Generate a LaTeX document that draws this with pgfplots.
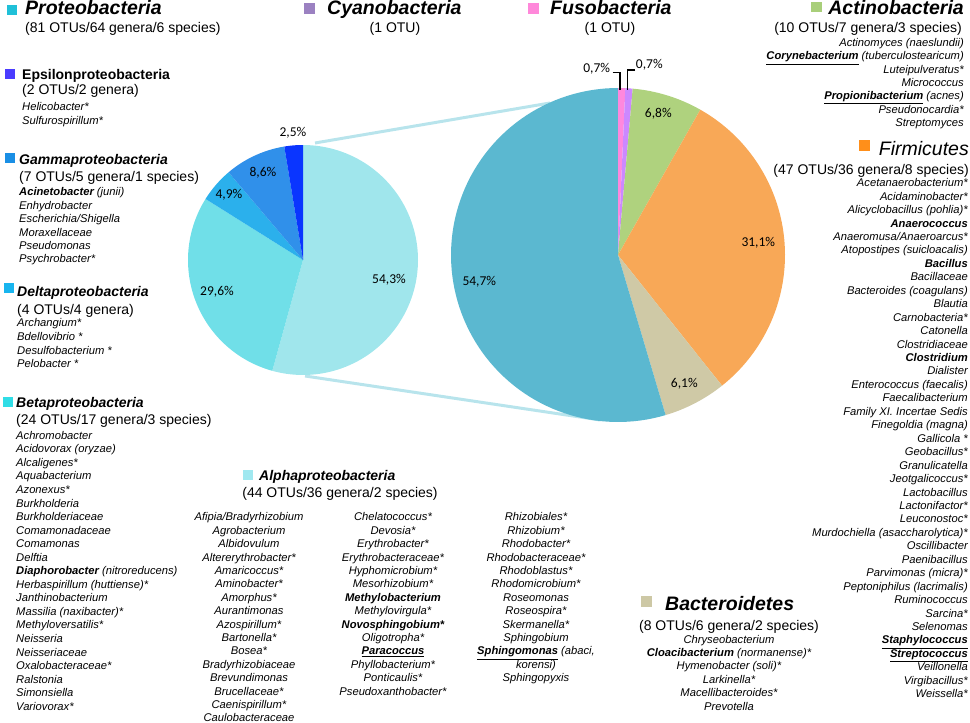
\documentclass[border=0pt]{standalone}
\usepackage{pgfplots}
\pgfplotsset{compat=1.18}
\usepackage{fontspec}
\setmainfont{Liberation Sans}
\newfontfamily\pctfont{Carlito}
\definecolor{cPink}{HTML}{FF88DD}
\definecolor{cPurple}{HTML}{CC88FF}
\definecolor{cGreen}{HTML}{AFD27E}
\definecolor{cOrange}{HTML}{F8A857}
\definecolor{cTan}{HTML}{CFC9A6}
\definecolor{cBlue}{HTML}{5BB8D0}
\definecolor{sAlpha}{HTML}{A0E6EC}
\definecolor{sBeta}{HTML}{70DFE8}
\definecolor{sDelta}{HTML}{2BB0EC}
\definecolor{sGamma}{HTML}{3090EA}
\definecolor{sEps}{HTML}{0A35FF}
\definecolor{conn}{HTML}{B8E4EC}
\definecolor{qProt}{HTML}{20C0D8}
\definecolor{qEps}{HTML}{4A3CFF}
\definecolor{qGamma}{HTML}{1A8FE5}
\definecolor{qDelta}{HTML}{18B5EF}
\definecolor{qBeta}{HTML}{30DDE6}
\definecolor{qAlpha}{HTML}{A0E8F0}
\definecolor{qCyano}{HTML}{9B81C1}
\definecolor{qFuso}{HTML}{FF88DA}
\definecolor{qActino}{HTML}{A9CF7A}
\definecolor{qFirm}{HTML}{FF8F1A}
\definecolor{qBact}{HTML}{CDC8A5}
\newcommand\Head{\fontsize{19.5}{22}\selectfont\bfseries\itshape}
\newcommand\HeadR{\fontsize{19.5}{22}\selectfont\itshape}
\newcommand\Sub{\fontsize{14}{16}\selectfont}
\newcommand\SubB{\fontsize{14}{16}\selectfont\bfseries}
\newcommand\SubBI{\fontsize{14}{16}\selectfont\bfseries\itshape}
\newcommand\Li{\fontsize{11.2}{13}\selectfont\itshape}
\newcommand\Pc{\fontsize{13.5}{15}\selectfont\pctfont}
\newcommand\B[1]{\textbf{#1}}
\newcommand\U[1]{\underline{\textbf{#1}}}
% slice: cx, cy, r, start (percent), size (percent), colour
\newcommand\slice[6]{%
\addplot[fill=#6, draw=none, domain=0:1, samples=90, variable=\t]
 ({#1+#3*sin(3.6*(#4+\t*#5))}, {#2-#3*cos(3.6*(#4+\t*#5))}) -- (axis cs:#1,#2) -- cycle;}
\begin{document}
\begin{tikzpicture}
\useasboundingbox (0,0) rectangle (970pt,723pt);
\begin{scope}[yshift=723pt, x=1pt, y=-1pt]
\draw[conn, line width=3pt] (315,143) -- (550,103);
\draw[conn, line width=3pt] (305,376) -- (600,420);
\end{scope}
\begin{axis}[x=1pt, y=1pt, xmin=0, xmax=970, ymin=0, ymax=723, y dir=reverse,
  hide axis, clip=false, scale only axis]
% Proteobacteria classes (small pie)
\slice{303}{260}{115}{0}{54.3}{sAlpha}
\slice{303}{260}{115}{54.3}{29.6}{sBeta}
\slice{303}{260}{115}{83.9}{4.9}{sDelta}
\slice{303}{260}{115}{88.8}{8.6}{sGamma}
\slice{303}{260}{115}{97.4}{2.6}{sEps}
% phyla (big pie)
\slice{618}{255}{167}{0}{0.7}{cPink}
\slice{618}{255}{167}{0.7}{0.7}{cPurple}
\slice{618}{255}{167}{1.4}{6.8}{cGreen}
\slice{618}{255}{167}{8.2}{31.1}{cOrange}
\slice{618}{255}{167}{39.3}{6.1}{cTan}
\slice{618}{255}{167}{45.4}{54.6}{cBlue}
\end{axis}
\begin{scope}[yshift=723pt, x=1pt, y=-1pt]
% percentage labels
\node[font=\Pc] at (293,133) {2,5\%};
\node[font=\Pc] at (263,173) {8,6\%};
\node[font=\Pc] at (229,195) {4,9\%};
\node[font=\Pc] at (217,292) {29,6\%};
\node[font=\Pc] at (389,280) {54,3\%};
\node[font=\Pc] at (596.7,68.3) {0,7\%};
\node[font=\Pc] at (649.3,65) {0,7\%};
\node[font=\Pc] at (658.3,113.3) {6,8\%};
\node[font=\Pc] at (758.3,242.7) {31,1\%};
\node[font=\Pc] at (684.3,383.3) {6,1\%};
\node[font=\Pc] at (479.3,281.7) {54,7\%};
\draw[line width=1.2pt] (612.7,72.3) -- (620,72.3) -- (620,90);
\draw[line width=1.2pt] (635,70) -- (627.7,70) -- (627.7,90);
% Proteobacteria header
\fill[qProt] (7,5) rectangle (17,15);
\node[anchor=base west, inner sep=0, font=\Head] at (25,15) {Proteobacteria};
\node[anchor=base west, inner sep=0, font=\Sub] at (25,32.5) {(81 OTUs/64 genera/6 species)};
% Cyanobacteria
\fill[qCyano] (304,3) rectangle (315,14);
\node[anchor=base west, inner sep=0, font=\Head] at (327,15) {Cyanobacteria};
\node[anchor=base, inner sep=0, font=\Sub] at (395,33) {(1 OTU)};
% Fusobacteria
\fill[qFuso] (528,3) rectangle (539,14);
\node[anchor=base west, inner sep=0, font=\Head] at (550,15) {Fusobacteria};
\node[anchor=base, inner sep=0, font=\Sub] at (610,33) {(1 OTU)};
% Epsilon
\fill[qEps] (5,69) rectangle (15,79);
\node[anchor=base west, inner sep=0, font=\SubB] at (22,80) {Epsilonproteobacteria};
\node[anchor=base west, inner sep=0, font=\Sub] at (22,95) {(2 OTUs/2 genera)};
\foreach \s [count=\i from 0] in {Helicobacter*, Sulfurospirillum*}
  \node[anchor=base west, inner sep=0, font=\Li] at (22,{111+13.7*\i}) {\s};
% Gamma
\fill[qGamma] (5,153) rectangle (15,163);
\node[anchor=base west, inner sep=0, font=\SubBI] at (19,165) {Gammaproteobacteria};
\node[anchor=base west, inner sep=0, font=\Sub] at (19,182) {(7 OTUs/5 genera/1 species)};
\foreach \s [count=\i from 0] in {{\B{Acinetobacter} (junii)}, Enhydrobacter, Escherichia/Shigella, Moraxellaceae, Pseudomonas, Psychrobacter*}
  \node[anchor=base west, inner sep=0, font=\Li] at (19,{196+13.35*\i}) {\s};
% Delta
\fill[qDelta] (4,283) rectangle (14,293);
\node[anchor=base west, inner sep=0, font=\SubBI] at (17,297) {Deltaproteobacteria};
\node[anchor=base west, inner sep=0, font=\Sub] at (17,315) {(4 OTUs/4 genera)};
\foreach \s [count=\i from 0] in {Archangium*, Bdellovibrio *, Desulfobacterium *, Pelobacter *}
  \node[anchor=base west, inner sep=0, font=\Li] at (17,{327+13.6*\i}) {\s};
% Beta
\fill[qBeta] (3,397) rectangle (13,407);
\node[anchor=base west, inner sep=0, font=\SubBI] at (16,408) {Betaproteobacteria};
\node[anchor=base west, inner sep=0, font=\Sub] at (16,425) {(24 OTUs/17 genera/3 species)};
\foreach \s [count=\i from 0] in {Achromobacter, Acidovorax (oryzae), Alcaligenes*, Aquabacterium, Azonexus*, Burkholderia, Burkholderiaceae, Comamonadaceae, Comamonas, Delftia, {\B{Diaphorobacter} (nitroreducens)}, Herbaspirillum (huttiense)*, Janthinobacterium, Massilia (naxibacter)*, Methyloversatilis*, Neisseria, Neisseriaceae, Oxalobacteraceae*, Ralstonia, Simonsiella, Variovorax*}
  \node[anchor=base west, inner sep=0, font=\Li] at (16,{439.3+13.55*\i}) {\s};
% Alpha
\fill[qAlpha] (243,470) rectangle (253,480);
\node[anchor=base west, inner sep=0, font=\SubBI] at (259,481) {Alphaproteobacteria};
\node[anchor=base, inner sep=0, font=\Sub] at (340,498) {(44 OTUs/36 genera/2 species)};
\foreach \s [count=\i from 0] in {Afipia/Bradyrhizobium, Agrobacterium, Albidovulum, Altererythrobacter*, Amaricoccus*, Aminobacter*, Amorphus*, Aurantimonas, Azospirillum*, Bartonella*, Bosea*, Bradyrhizobiaceae, Brevundimonas, Brucellaceae*, Caenispirillum*, Caulobacteraceae}
  \node[anchor=base, inner sep=0, font=\Li] at (249,{521+13.4*\i}) {\s};
\foreach \s [count=\i from 0] in {Chelatococcus*, Devosia*, Erythrobacter*, Erythrobacteraceae*, Hyphomicrobium*, Mesorhizobium*, \B{Methylobacterium}, Methylovirgula*, \B{Novosphingobium*}, Oligotropha*, \U{Paracoccus}, Phyllobacterium*, Ponticaulis*, Pseudoxanthobacter*}
  \node[anchor=base, inner sep=0, font=\Li] at (393,{521+13.4*\i}) {\s};
\foreach \s [count=\i from 0] in {Rhizobiales*, Rhizobium*, Rhodobacter*, Rhodobacteraceae*, Rhodoblastus*, Rhodomicrobium*, Roseomonas, Roseospira*, Skermanella*, Sphingobium, {\U{Sphingomonas} (abaci,}, korensi), Sphingopyxis}
  \node[anchor=base, inner sep=0, font=\Li] at (536,{521+13.4*\i}) {\s};
% Actinobacteria
\fill[qActino] (811,2) rectangle (822,12);
\node[anchor=base east, inner sep=0, font=\Head] at (964,15) {Actinobacteria};
\node[anchor=base east, inner sep=0, font=\Sub] at (962,32.7) {(10 OTUs/7 genera/3 species)};
\foreach \s [count=\i from 0] in {Actinomyces (naeslundii), {\U{Corynebacterium} (tuberculostearicum)}, Luteipulveratus*, Micrococcus, {\U{Propionibacterium} (acnes)}, Pseudonocardia*, Streptomyces}
  \node[anchor=base east, inner sep=0, font=\Li] at (964,{46.7+13.3*\i}) {\s};
% Firmicutes
\fill[qFirm] (859,140) rectangle (870,151);
\node[anchor=base east, inner sep=0, font=\HeadR] at (969,156) {Firmicutes};
\node[anchor=base east, inner sep=0, font=\Sub] at (969,174.3) {(47 OTUs/36 genera/8 species)};
\foreach \s [count=\i from 0] in {Acetanaerobacterium*, Acidaminobacter*, Alicyclobacillus (pohlia)*, \B{Anaerococcus}, Anaeromusa/Anaeroarcus*, Atopostipes (suicloacalis), \B{Bacillus}, Bacillaceae, Bacteroides (coagulans), Blautia, Carnobacteria*, Catonella, Clostridiaceae, \B{Clostridium}, Dialister, Enterococcus (faecalis), Faecalibacterium, Family XI. Incertae Sedis, Finegoldia (magna), Gallicola *, Geobacillus*, Granulicatella, Jeotgalicoccus*, Lactobacillus, Lactonifactor*, Leuconostoc*, Murdochiella (asaccharolytica)*, Oscillibacter, Paenibacillus, Parvimonas (micra)*, Peptoniphilus (lacrimalis), Ruminococcus, Sarcina*, Selenomas, \U{Staphylococcus}, \U{Streptococcus}, Veillonella, Virgibacillus*, Weissella*}
  \node[anchor=base east, inner sep=0, font=\Li] at (968,{186.7+13.45*\i}) {\s};
% Bacteroidetes
\fill[qBact] (641,596) rectangle (652,607);
\node[anchor=base west, inner sep=0, font=\Head] at (665,610.7) {Bacteroidetes};
\node[anchor=base, inner sep=0, font=\Sub] at (729,631) {(8 OTUs/6 genera/2 species)};
\foreach \s [count=\i from 0] in {Chryseobacterium, {\B{Cloacibacterium} (normanense)*}, Hymenobacter (soli)*, Larkinella*, Macellibacteroides*, Prevotella}
  \node[anchor=base, inner sep=0, font=\Li] at (729,{643.3+13.35*\i}) {\s};
\end{scope}
\end{tikzpicture}
\end{document}
